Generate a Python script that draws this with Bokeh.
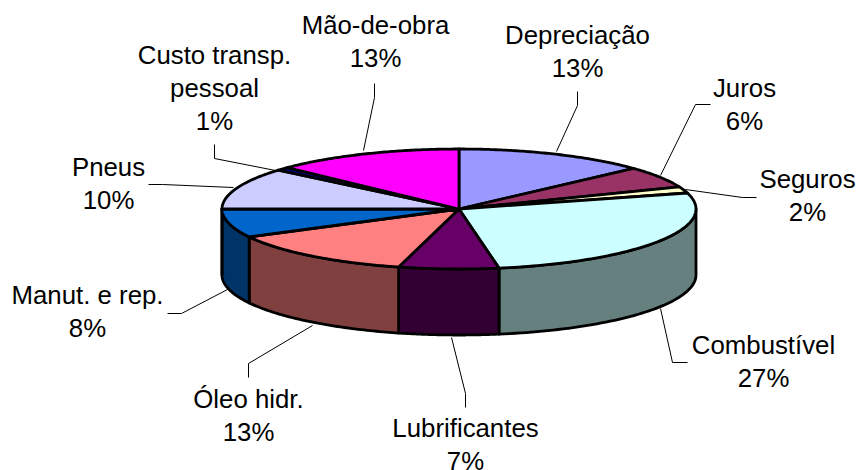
from bokeh.plotting import figure
from bokeh.models import Range1d, ColumnDataSource
from bokeh.core.properties import value
from bokeh.embed import file_html
from bokeh.resources import INLINE
import numpy as np

# Data, clockwise from 12 o'clock (shares)
categories = ["Depreciação", "Juros", "Seguros", "Combustível", "Lubrificantes",
              "Óleo hidr.", "Manut. e rep.", "Pneus", "Custo transp.\npessoal", "Mão-de-obra"]
shares = [13.2, 5.8, 1.7, 26.6, 6.8, 13.2, 7.7, 11.2, 0.9, 12.9]
pct_labels = ["13%", "6%", "2%", "27%", "7%", "13%", "8%", "10%", "1%", "13%"]
top_colors = ["#9999FF", "#993366", "#FFFFCC", "#CCFFFF", "#660066",
              "#FF8080", "#0066CC", "#CCCCFF", "#000080", "#FF00FF"]
side_colors = ["#4D4D80", "#4D1A33", "#808066", "#668080", "#330033",
               "#804040", "#003366", "#666680", "#000040", "#800080"]

# Layout (page pixels)
CX, CY, A, B, DEPTH = 458.5, 208.5, 237.0, 60.0, 66.0
label_x = [577, 744, 807, 763, 465, 248, 87, 108, 214, 375]
label_base = [43, 96, 187, 353, 436.5, 407, 303, 175, 63, 33]
TEXT_SHIFT = -9.0
LINE_STEP = 33.2
leaders_x = [[577, 577, 556], [710, 695, 660], [756, 742, 685], [687, 672, 660],
             [465, 465, 451], [248, 248, 312], [167, 181, 227], [148, 162, 233],
             [214, 214, 275], [374, 374, 363]]
leaders_y = [[91, 105, 151], [104, 104, 175], [197, 197, 189], [362, 362, 308],
             [407, 393, 337], [377, 363, 325], [313, 313, 289], [184, 184, 187],
             [144, 158, 170], [83, 97, 150]]

p = figure(width=856, height=470, output_backend="svg", toolbar_location=None,
           x_range=Range1d(0, 856), y_range=Range1d(470, 0),
           x_axis_type=None, y_axis_type=None, min_border=0,
           outline_line_color=None, background_fill_color="white")
p.grid.visible = False

def ex(t):
    return CX + A * np.sin(t)
def ey(t):
    return CY - B * np.cos(t)

edges = np.cumsum([0.0] + shares)
edges = edges / edges[-1] * 2 * np.pi

# Side walls (only the front half, pi/2 .. 3pi/2, is visible)
sx, sy, sc = [], [], []
for i in range(len(shares)):
    lo, hi = max(edges[i], np.pi / 2), min(edges[i + 1], 3 * np.pi / 2)
    if hi <= lo:
        continue
    t = np.linspace(lo, hi, 60)
    sx.append(np.concatenate([ex(t), ex(t[::-1])]))
    sy.append(np.concatenate([ey(t), ey(t[::-1]) + DEPTH]))
    sc.append(side_colors[i])
p.patches("x", "y", fill_color="c", line_color="black", line_width=2.8, line_join="round",
          source=ColumnDataSource(dict(x=sx, y=sy, c=sc)))

# Top slices
tx, ty = [], []
for i in range(len(shares)):
    t = np.linspace(edges[i], edges[i + 1], 80)
    tx.append(np.concatenate([[CX], ex(t)]))
    ty.append(np.concatenate([[CY], ey(t)]))
p.patches("x", "y", fill_color="c", line_color="black", line_width=2.8, line_join="round",
          source=ColumnDataSource(dict(x=tx, y=ty, c=top_colors)))

# Leader lines
p.multi_line(leaders_x, leaders_y, line_color="black", line_width=1)

# Labels
xs, ys, txt = [], [], []
for i, name in enumerate(categories):
    lines = name.split("\n") + [pct_labels[i]]
    for j, s in enumerate(lines):
        xs.append(label_x[i])
        ys.append(label_base[i] + j * LINE_STEP + TEXT_SHIFT)
        txt.append(s)
p.text(xs, ys, text=txt, text_font=value("Liberation Sans"), text_font_size="25.8px",
       text_align="center", text_baseline="alphabetic", text_color="black")

open("out.html", "w").write(file_html(p, INLINE))
